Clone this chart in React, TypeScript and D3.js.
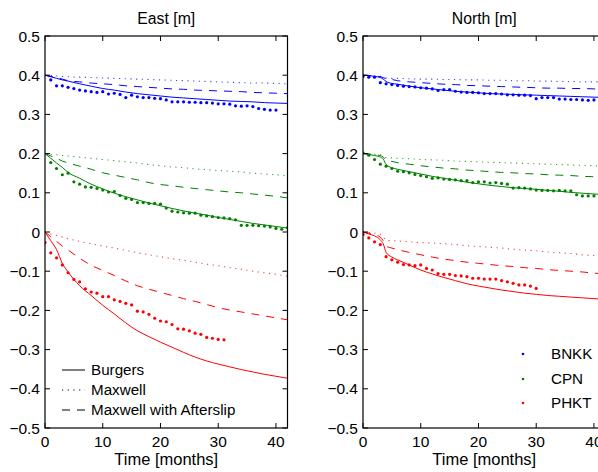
import React from "react";
import * as d3 from "d3";

// ---------- axes ----------
const xTicks = [0, 10, 20, 30, 40];
const yTicks = [-0.5, -0.4, -0.3, -0.2, -0.1, 0, 0.1, 0.2, 0.3, 0.4, 0.5];
const panelTitles = ["East [m]", "North [m]"];
const xLabel = "Time [months]";
const modelNames = ["Burgers", "Maxwell", "Maxwell with Afterslip"];
const stationNames = ["BNKK", "CPN", "PHKT"];
const stationColors = ["#0000ff", "#008000", "#ff0000"];

// ---------- observations (monthly) ----------
const eastBnkkStart = 1;
const eastBnkk = [0.388, 0.373, 0.373, 0.369, 0.366, 0.362, 0.360, 0.358, 0.356, 0.358, 0.352, 0.354, 0.351, 0.343, 0.349, 0.345, 0.343, 0.343, 0.341, 0.340, 0.337, 0.332, 0.332, 0.332, 0.331, 0.331, 0.330, 0.330, 0.329, 0.327, 0.327, 0.326, 0.322, 0.321, 0.322, 0.320, 0.315, 0.313, 0.311, 0.311];
const eastCpnStart = 1;
const eastCpn = [0.177, 0.162, 0.146, 0.150, 0.128, 0.122, 0.115, 0.114, 0.111, 0.107, 0.102, 0.103, 0.093, 0.086, 0.083, 0.075, 0.075, 0.073, 0.073, 0.071, 0.061, 0.053, 0.051, 0.049, 0.048, 0.048, 0.043, 0.041, 0.039, 0.037, 0.036, 0.034, 0.031, 0.017, 0.017, 0.017, 0.016, 0.015, 0.013, 0.009, 0.007, 0.011];
const eastPhktStart = 0;
const eastPhkt = [-0.027, -0.053, -0.066, -0.084, -0.104, -0.121, -0.127, -0.145, -0.153, -0.156, -0.165, -0.165, -0.173, -0.177, -0.182, -0.186, -0.202, -0.204, -0.210, -0.220, -0.227, -0.229, -0.236, -0.247, -0.248, -0.252, -0.258, -0.261, -0.269, -0.271, -0.274, -0.275];

const northBnkkStart = 0;
const northBnkk = [0.397, 0.395, 0.395, 0.381, 0.378, 0.376, 0.374, 0.372, 0.371, 0.370, 0.368, 0.367, 0.365, 0.361, 0.363, 0.363, 0.359, 0.357, 0.356, 0.356, 0.355, 0.353, 0.353, 0.353, 0.352, 0.350, 0.350, 0.349, 0.349, 0.348, 0.340, 0.343, 0.343, 0.343, 0.339, 0.339, 0.338, 0.338, 0.337, 0.336, 0.337];
const northCpnStart = 0;
const northCpn = [0.202, 0.196, 0.185, 0.173, 0.168, 0.162, 0.155, 0.154, 0.151, 0.147, 0.144, 0.141, 0.137, 0.138, 0.135, 0.134, 0.133, 0.131, 0.131, 0.126, 0.128, 0.128, 0.125, 0.126, 0.124, 0.122, 0.112, 0.113, 0.112, 0.110, 0.107, 0.106, 0.106, 0.105, 0.106, 0.105, 0.105, 0.095, 0.092, 0.092, 0.092];
const northPhktStart = 0;
const northPhkt = [-0.006, -0.015, -0.025, -0.032, -0.063, -0.071, -0.077, -0.083, -0.084, -0.086, -0.084, -0.093, -0.097, -0.106, -0.108, -0.108, -0.111, -0.112, -0.114, -0.118, -0.118, -0.120, -0.120, -0.120, -0.124, -0.127, -0.131, -0.135, -0.135, -0.138, -0.144];

// ---------- model curves ----------
const eastModelT = [0, 1, 2, 3, 4, 6, 8, 10, 12, 14, 16, 18, 20, 22, 24, 26, 28, 30, 32, 34, 36, 38, 40, 42];
const eastBnkkBurgers = [0.400, 0.396, 0.392, 0.388, 0.385, 0.378, 0.372, 0.366, 0.362, 0.357, 0.353, 0.350, 0.347, 0.344, 0.342, 0.340, 0.338, 0.336, 0.334, 0.333, 0.332, 0.330, 0.329, 0.328];
const eastBnkkMaxwell = [0.400, 0.399, 0.398, 0.397, 0.396, 0.395, 0.394, 0.393, 0.392, 0.391, 0.390, 0.389, 0.388, 0.387, 0.386, 0.385, 0.384, 0.383, 0.382, 0.381, 0.380, 0.380, 0.379, 0.378];
const eastBnkkAfter = [0.400, 0.397, 0.394, 0.390, 0.386, 0.383, 0.380, 0.378, 0.376, 0.373, 0.371, 0.369, 0.367, 0.365, 0.364, 0.362, 0.361, 0.360, 0.359, 0.358, 0.356, 0.355, 0.354, 0.353];
const eastCpnBurgers = [0.200, 0.188, 0.176, 0.165, 0.152, 0.137, 0.122, 0.110, 0.099, 0.090, 0.082, 0.074, 0.067, 0.060, 0.054, 0.048, 0.043, 0.037, 0.032, 0.027, 0.022, 0.018, 0.014, 0.010];
const eastCpnMaxwell = [0.200, 0.198, 0.197, 0.195, 0.194, 0.191, 0.188, 0.185, 0.182, 0.179, 0.176, 0.172, 0.169, 0.166, 0.164, 0.161, 0.159, 0.157, 0.155, 0.153, 0.150, 0.148, 0.146, 0.143];
const eastCpnAfter = [0.200, 0.194, 0.188, 0.181, 0.176, 0.168, 0.160, 0.151, 0.145, 0.139, 0.133, 0.126, 0.121, 0.118, 0.114, 0.111, 0.108, 0.105, 0.102, 0.100, 0.097, 0.094, 0.091, 0.087];
const eastPhktBurgers = [0.000, -0.022, -0.045, -0.080, -0.102, -0.137, -0.162, -0.187, -0.209, -0.232, -0.252, -0.267, -0.281, -0.294, -0.307, -0.319, -0.329, -0.337, -0.344, -0.351, -0.357, -0.363, -0.368, -0.373];
const eastPhktMaxwell = [0.000, -0.005, -0.009, -0.013, -0.017, -0.024, -0.030, -0.036, -0.041, -0.047, -0.053, -0.058, -0.063, -0.068, -0.072, -0.077, -0.082, -0.086, -0.091, -0.095, -0.100, -0.104, -0.108, -0.113];
const eastPhktAfter = [0.000, -0.012, -0.024, -0.036, -0.046, -0.067, -0.085, -0.098, -0.111, -0.125, -0.137, -0.146, -0.154, -0.162, -0.170, -0.177, -0.185, -0.193, -0.199, -0.204, -0.209, -0.214, -0.219, -0.224];

const northModelT = [0, 1, 2, 3, 3.5, 4, 5, 6, 8, 10, 12, 14, 16, 18, 20, 22, 24, 26, 28, 30, 32, 34, 36, 38, 40, 42];
const northBnkkBurgers = [0.400, 0.399, 0.397, 0.394, 0.390, 0.384, 0.379, 0.377, 0.372, 0.368, 0.365, 0.362, 0.359, 0.357, 0.355, 0.353, 0.352, 0.351, 0.350, 0.349, 0.348, 0.347, 0.346, 0.345, 0.344, 0.343];
const northBnkkMaxwell = [0.400, 0.399, 0.398, 0.397, 0.395, 0.393, 0.392, 0.392, 0.391, 0.390, 0.390, 0.389, 0.389, 0.388, 0.388, 0.387, 0.387, 0.386, 0.386, 0.385, 0.385, 0.384, 0.384, 0.383, 0.383, 0.382];
const northBnkkAfter = [0.400, 0.399, 0.398, 0.396, 0.394, 0.391, 0.389, 0.386, 0.383, 0.381, 0.379, 0.377, 0.376, 0.374, 0.373, 0.372, 0.371, 0.370, 0.369, 0.368, 0.367, 0.367, 0.366, 0.366, 0.365, 0.364];
const northCpnBurgers = [0.200, 0.198, 0.195, 0.191, 0.186, 0.172, 0.164, 0.160, 0.154, 0.148, 0.142, 0.137, 0.132, 0.127, 0.123, 0.119, 0.116, 0.113, 0.111, 0.109, 0.106, 0.104, 0.101, 0.099, 0.097, 0.095];
const northCpnMaxwell = [0.200, 0.199, 0.198, 0.197, 0.194, 0.190, 0.189, 0.188, 0.187, 0.185, 0.184, 0.183, 0.181, 0.180, 0.179, 0.178, 0.177, 0.176, 0.175, 0.174, 0.173, 0.172, 0.171, 0.170, 0.169, 0.168];
const northCpnAfter = [0.200, 0.199, 0.197, 0.195, 0.191, 0.183, 0.180, 0.177, 0.173, 0.169, 0.166, 0.163, 0.161, 0.158, 0.156, 0.154, 0.152, 0.151, 0.149, 0.148, 0.146, 0.145, 0.144, 0.142, 0.141, 0.140];
const northPhktBurgers = [0.000, -0.005, -0.010, -0.020, -0.030, -0.052, -0.064, -0.071, -0.084, -0.097, -0.107, -0.116, -0.124, -0.132, -0.138, -0.143, -0.148, -0.152, -0.156, -0.159, -0.162, -0.164, -0.166, -0.168, -0.170, -0.172];
const northPhktMaxwell = [0.000, -0.001, -0.003, -0.006, -0.012, -0.022, -0.022, -0.023, -0.025, -0.027, -0.028, -0.030, -0.032, -0.035, -0.037, -0.039, -0.041, -0.044, -0.046, -0.048, -0.051, -0.053, -0.055, -0.058, -0.060, -0.062];
const northPhktAfter = [0.000, -0.003, -0.007, -0.013, -0.022, -0.036, -0.041, -0.045, -0.052, -0.058, -0.064, -0.069, -0.073, -0.077, -0.080, -0.083, -0.086, -0.088, -0.091, -0.093, -0.096, -0.098, -0.100, -0.102, -0.105, -0.107];

const W = 598;
const H = 472;
const FONT = "'Liberation Sans', Arial, Helvetica, sans-serif";
const FS_TICK = 15.5;
const FS_TITLE = 15.8;
const FS_XLABEL = 16.5;
const FS_LEGEND = 15.2;
const dashStyles = [null, "1.2,4.5", "8,7"];

type Panel = {
  title: string;
  x0: number;
  obs: { start: number; values: number[]; color: string }[];
  modelT: number[];
  models: { values: number[]; color: string; style: number }[];
};

const panels: Panel[] = [
  {
    title: panelTitles[0],
    x0: 45,
    obs: [
      { start: eastBnkkStart, values: eastBnkk, color: stationColors[0] },
      { start: eastCpnStart, values: eastCpn, color: stationColors[1] },
      { start: eastPhktStart, values: eastPhkt, color: stationColors[2] },
    ],
    modelT: eastModelT,
    models: [
      { values: eastBnkkBurgers, color: stationColors[0], style: 0 },
      { values: eastBnkkMaxwell, color: stationColors[0], style: 1 },
      { values: eastBnkkAfter, color: stationColors[0], style: 2 },
      { values: eastCpnBurgers, color: stationColors[1], style: 0 },
      { values: eastCpnMaxwell, color: stationColors[1], style: 1 },
      { values: eastCpnAfter, color: stationColors[1], style: 2 },
      { values: eastPhktBurgers, color: stationColors[2], style: 0 },
      { values: eastPhktMaxwell, color: stationColors[2], style: 1 },
      { values: eastPhktAfter, color: stationColors[2], style: 2 },
    ],
  },
  {
    title: panelTitles[1],
    x0: 363,
    obs: [
      { start: northBnkkStart, values: northBnkk, color: stationColors[0] },
      { start: northCpnStart, values: northCpn, color: stationColors[1] },
      { start: northPhktStart, values: northPhkt, color: stationColors[2] },
    ],
    modelT: northModelT,
    models: [
      { values: northBnkkBurgers, color: stationColors[0], style: 0 },
      { values: northBnkkMaxwell, color: stationColors[0], style: 1 },
      { values: northBnkkAfter, color: stationColors[0], style: 2 },
      { values: northCpnBurgers, color: stationColors[1], style: 0 },
      { values: northCpnMaxwell, color: stationColors[1], style: 1 },
      { values: northCpnAfter, color: stationColors[1], style: 2 },
      { values: northPhktBurgers, color: stationColors[2], style: 0 },
      { values: northPhktMaxwell, color: stationColors[2], style: 1 },
      { values: northPhktAfter, color: stationColors[2], style: 2 },
    ],
  },
];

const y = d3.scaleLinear().domain([-0.5, 0.5]).range([428, 36]);
const fmtY = (v: number) => {
  if (Math.abs(v) < 1e-9) return "0";
  const s = Math.abs(v).toFixed(1);
  return v < 0 ? "\u2212" + s : s;
};

function PanelView({ p, idx }: { p: Panel; idx: number }) {
  const x = d3.scaleLinear().domain([0, 42]).range([p.x0, p.x0 + 242.5]);
  const [xl, xr] = x.range();
  const [yb, yt] = y.range();
  const line = d3
    .line<[number, number]>()
    .x((d) => x(d[0]))
    .y((d) => y(d[1]))
    .curve(d3.curveMonotoneX);
  const tick = 5;
  const clipId = "clip" + idx;
  return (
    <g>
      <defs>
        <clipPath id={clipId}>
          <rect x={xl} y={yt} width={xr - xl} height={yb - yt} />
        </clipPath>
      </defs>
      <text x={(xl + xr) / 2} y={24} textAnchor="middle" fontSize={FS_TITLE} fontFamily={FONT}>
        {p.title}
      </text>
      <g clipPath={`url(#${clipId})`}>
        {p.models.map((m, i) => (
          <path
            key={i}
            d={line(p.modelT.map((t, j) => [t, m.values[j]] as [number, number])) || ""}
            fill="none"
            stroke={m.color}
            strokeWidth={m.style === 1 ? 1.1 : 1}
            strokeDasharray={dashStyles[m.style] || undefined}
            opacity={m.style === 1 ? 0.75 : 1}
          />
        ))}
        {p.obs.map((o, i) =>
          o.values.map((v, j) => (
            <circle key={i + "-" + j} cx={x(o.start + j)} cy={y(v)} r={1.6} fill={o.color} />
          ))
        )}
      </g>
      {/* box */}
      <rect x={xl} y={yt} width={xr - xl} height={yb - yt} fill="none" stroke="#000" strokeWidth={1.2} />
      {/* ticks */}
      {xTicks.map((t) => (
        <g key={"xt" + t}>
          <line x1={x(t)} x2={x(t)} y1={yb} y2={yb - tick} stroke="#000" />
          <line x1={x(t)} x2={x(t)} y1={yt} y2={yt + tick} stroke="#000" />
          <text x={x(t)} y={447} textAnchor="middle" fontSize={FS_TICK} fontFamily={FONT}>
            {String(t)}
          </text>
        </g>
      ))}
      {yTicks.map((v) => (
        <g key={"yt" + v}>
          <line x1={xl} x2={xl + tick} y1={y(v)} y2={y(v)} stroke="#000" />
          <line x1={xr} x2={xr - tick} y1={y(v)} y2={y(v)} stroke="#000" />
          <text x={xl - 5} y={y(v)} dy="0.36em" textAnchor="end" fontSize={FS_TICK} fontFamily={FONT}>
            {fmtY(v)}
          </text>
        </g>
      ))}
      <text x={(xl + xr) / 2} y={465} textAnchor="middle" fontSize={FS_XLABEL} fontFamily={FONT}>
        {xLabel}
      </text>
    </g>
  );
}

export default function App() {
  const legendRows = [370, 390, 410];
  const stationRows = [354, 379, 403];
  return (
    <svg
      width={W}
      height={H}
      style={{ position: "absolute", left: 0, top: 0, background: "#fff" }}
    >
      <rect x={0} y={0} width={W} height={H} fill="#fff" />
      {panels.map((p, i) => (
        <PanelView key={i} p={p} idx={i} />
      ))}
      {/* model legend */}
      {modelNames.map((name, i) => (
        <g key={name}>
          <line
            x1={62}
            x2={85}
            y1={legendRows[i]}
            y2={legendRows[i]}
            stroke="#000"
            strokeWidth={1}
            strokeDasharray={dashStyles[i] || undefined}
          />
          <text x={91} y={legendRows[i]} dy="0.36em" fontSize={FS_LEGEND} fontFamily={FONT}>
            {name}
          </text>
        </g>
      ))}
      {/* station legend */}
      {stationNames.map((name, i) => (
        <g key={name}>
          <circle cx={523} cy={stationRows[i]} r={1.3} fill={stationColors[i]} />
          <text x={551} y={stationRows[i]} dy="0.36em" fontSize={FS_LEGEND} fontFamily={FONT}>
            {name}
          </text>
        </g>
      ))}
    </svg>
  );
}
